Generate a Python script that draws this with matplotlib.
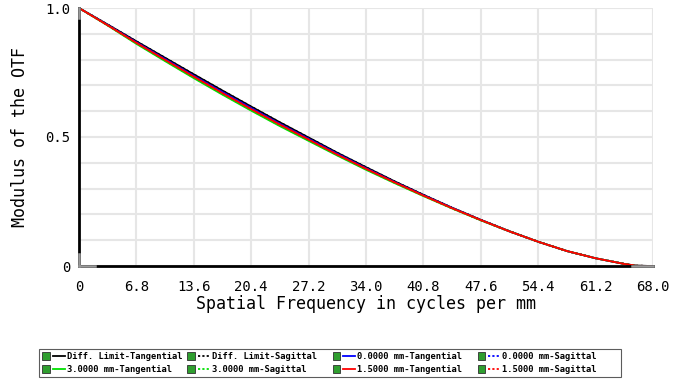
import numpy as np
import matplotlib
matplotlib.use("Agg")
import matplotlib.pyplot as plt
from matplotlib.legend_handler import HandlerBase
from matplotlib.patches import Rectangle
from matplotlib.lines import Line2D

# spatial frequency, cycles per mm
freq = [0, 3.4, 6.8, 10.2, 13.6, 17.0, 20.4, 23.8, 27.2, 30.6, 34.0, 37.4,
        40.8, 44.2, 47.6, 51.0, 54.4, 57.8, 61.2, 64.6, 66.0, 68.0]

diff_t = [1.0, 0.936, 0.871, 0.807, 0.743, 0.680, 0.618, 0.557, 0.498, 0.439,
          0.383, 0.328, 0.276, 0.226, 0.179, 0.135, 0.094, 0.058, 0.030, 0.008, 0.001, 0.0]
diff_s = diff_t
on_t = [1.0, 0.934, 0.867, 0.802, 0.737, 0.674, 0.612, 0.551, 0.493, 0.435,
        0.379, 0.325, 0.274, 0.225, 0.178, 0.134, 0.094, 0.058, 0.030, 0.008, 0.001, 0.0]
on_s = on_t
f3_t = [1.0, 0.932, 0.861, 0.794, 0.728, 0.664, 0.602, 0.542, 0.485, 0.428,
        0.373, 0.321, 0.271, 0.223, 0.177, 0.134, 0.094, 0.058, 0.030, 0.008, 0.001, 0.0]
f3_s = [1.0, 0.933, 0.863, 0.796, 0.730, 0.666, 0.604, 0.544, 0.487, 0.430,
        0.375, 0.322, 0.272, 0.223, 0.177, 0.134, 0.094, 0.058, 0.030, 0.008, 0.001, 0.0]
f15_t = [1.0, 0.933, 0.865, 0.799, 0.734, 0.670, 0.608, 0.548, 0.490, 0.432,
         0.377, 0.324, 0.273, 0.224, 0.178, 0.134, 0.094, 0.058, 0.030, 0.008, 0.001, 0.0]
f15_s = f15_t

xticks = [0, 6.8, 13.6, 20.4, 27.2, 34.0, 40.8, 47.6, 54.4, 61.2, 68.0]
xtick_labels = ["0", "6.8", "13.6", "20.4", "27.2", "34.0", "40.8", "47.6", "54.4", "61.2", "68.0"]
yticks = [0, 0.5, 1.0]
ytick_labels = ["0", "0.5", "1.0"]

mono = "DejaVu Sans Mono"

fig = plt.figure(figsize=(6.77, 3.85), dpi=100)
ax = fig.add_axes([79/677, 1-266/385, (653-79)/677, (266-8)/385])

series = [
    ("Diff. Limit-Tangential", diff_t, "black", "-"),
    ("Diff. Limit-Sagittal", diff_s, "black", ":"),
    ("0.0000 mm-Tangential", on_t, "#0000ff", "-"),
    ("0.0000 mm-Sagittal", on_s, "#0000ff", ":"),
    ("3.0000 mm-Tangential", f3_t, "#00e000", "-"),
    ("3.0000 mm-Sagittal", f3_s, "#00e000", ":"),
    ("1.5000 mm-Tangential", f15_t, "#ff0000", "-"),
    ("1.5000 mm-Sagittal", f15_s, "#ff0000", ":"),
]
lines = {}
for name, vals, col, ls in series:
    ln, = ax.plot(freq, vals, color=col, linestyle=ls, lw=1.3, label=name)
    lines[name] = ln

ax.set_xlim(0, 68)
ax.set_ylim(0, 1.0)
ax.set_xticks(xticks)
ax.set_xticklabels(xtick_labels, fontsize=10, family=mono)
ax.set_yticks(yticks)
ax.set_yticklabels(ytick_labels, fontsize=10, family=mono)
ax.set_xticks(np.arange(0, 68.01, 6.8), minor=True)
ax.set_yticks(np.arange(0, 1.001, 0.1), minor=True)
ax.tick_params(which="both", length=0)
ax.tick_params(axis="x", pad=10)
ax.tick_params(axis="y", pad=6)
ax.grid(which="both", color="#e6e6e6", lw=1.5)
ax.set_axisbelow(True)
for s in ["top", "right"]:
    ax.spines[s].set_visible(False)
for s in ["left", "bottom"]:
    ax.spines[s].set_linewidth(2)
    ax.spines[s].set_color("black")

# small gray marks on the axes
gray = "#9a9a9a"
ax.plot([0, 1.9], [0, 0], color=gray, lw=1.8, clip_on=False, zorder=5)
ax.plot([65.5, 68], [0, 0], color=gray, lw=1.8, clip_on=False, zorder=5)
ax.plot([0, 0], [0.96, 1.0], color=gray, lw=1.8, clip_on=False, zorder=5)
ax.plot([0, 0], [0, 0.045], color=gray, lw=1.8, clip_on=False, zorder=5)

ax.set_xlabel("Spatial Frequency in cycles per mm", fontsize=12, family=mono, labelpad=1)
ax.set_ylabel("Modulus of the OTF", fontsize=12, family=mono, labelpad=12)


class CheckHandler(HandlerBase):
    def create_artists(self, legend, orig_handle, xdescent, ydescent,
                       width, height, fontsize, trans):
        yc = height / 2 - ydescent
        box = Rectangle((-xdescent, yc - 2.7), 5.4, 5.4, facecolor="#2f9e2f",
                        edgecolor="#303030", lw=0.6, transform=trans)
        ls = orig_handle.get_linestyle()
        if ls == ":":
            ls = (0, (1.2, 1.2))
        ln = Line2D([-xdescent + 7.5, -xdescent + width], [yc, yc],
                    color=orig_handle.get_color(), linestyle=ls, lw=1.3,
                    transform=trans)
        return [box, ln]


order = ["Diff. Limit-Tangential", "3.0000 mm-Tangential",
         "Diff. Limit-Sagittal", "3.0000 mm-Sagittal",
         "0.0000 mm-Tangential", "1.5000 mm-Tangential",
         "0.0000 mm-Sagittal", "1.5000 mm-Sagittal"]
handles = [lines[n] for n in order]
# pad labels so every legend column has the same width
labels = [n.ljust(22) for n in order]
leg = fig.legend(handles, labels, loc="center", bbox_to_anchor=(330/677, 1-363/385),
                 ncol=4, handler_map={Line2D: CheckHandler()},
                 prop={"family": mono, "size": 6.3, "weight": "bold"},
                 frameon=True, fancybox=False, edgecolor="#333333",
                 handlelength=2.6, handletextpad=0.2, columnspacing=0.6,
                 labelspacing=0.45, borderpad=0.4)
leg.get_frame().set_linewidth(0.8)

fig.savefig("out.png", dpi=100)
